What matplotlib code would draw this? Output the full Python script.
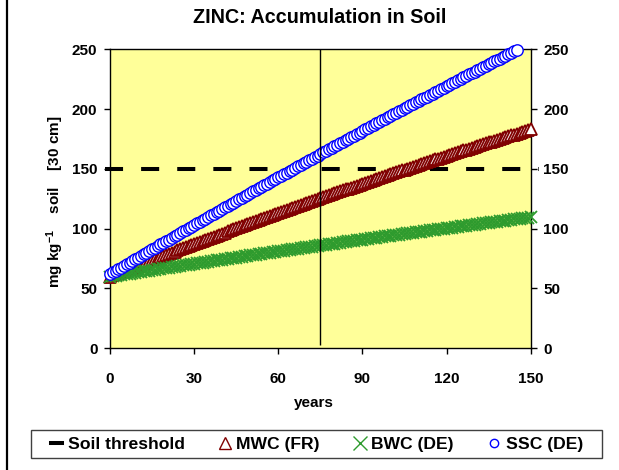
import numpy as np
import matplotlib
matplotlib.use("Agg")
import matplotlib.pyplot as plt
from matplotlib.lines import Line2D
from matplotlib.patches import Rectangle

plt.rcParams['font.family'] = ['Liberation Sans', 'DejaVu Sans']
plt.rcParams['font.weight'] = 'bold'
plt.rcParams['mathtext.fontset'] = 'custom'
plt.rcParams['mathtext.rm'] = 'Liberation Sans:bold'
plt.rcParams['mathtext.it'] = 'Liberation Sans:bold'
plt.rcParams['mathtext.bf'] = 'Liberation Sans:bold'
plt.rcParams['lines.scale_dashes'] = False

# zinc in topsoil (mg/kg, 30 cm), one value per year
ssc_de = [62.0, 63.4, 64.8, 66.2, 67.5, 68.9, 70.3, 71.7, 73.1, 74.5,
          75.8, 77.2, 78.6, 80.0, 81.3, 82.7, 84.1, 85.4, 86.8, 88.2,
          89.5, 90.9, 92.3, 93.6, 95.0, 96.3, 97.7, 99.0, 100.4, 101.8,
          103.1, 104.5, 105.8, 107.1, 108.5, 109.8, 111.2, 112.5, 113.9, 115.2,
          116.5, 117.9, 119.2, 120.5, 121.9, 123.2, 124.5, 125.9, 127.2, 128.5,
          129.8, 131.2, 132.5, 133.8, 135.1, 136.4, 137.8, 139.1, 140.4, 141.7,
          143.0, 144.3, 145.6, 146.9, 148.2, 149.5, 150.8, 152.1, 153.4, 154.7,
          156.0, 157.3, 158.6, 159.9, 161.2, 162.5, 163.8, 165.1, 166.4, 167.6,
          168.9, 170.2, 171.5, 172.8, 174.0, 175.3, 176.6, 177.9, 179.2, 180.4,
          181.7, 183.0, 184.2, 185.5, 186.8, 188.0, 189.3, 190.5, 191.8, 193.1,
          194.3, 195.6, 196.8, 198.1, 199.3, 200.6, 201.8, 203.1, 204.3, 205.6,
          206.8, 208.1, 209.3, 210.5, 211.8, 213.0, 214.2, 215.5, 216.7, 217.9,
          219.2, 220.4, 221.6, 222.9, 224.1, 225.3, 226.5, 227.7, 229.0, 230.2,
          231.4, 232.6, 233.8, 235.0, 236.3, 237.5, 238.7, 239.9, 241.1, 242.3,
          243.5, 244.7, 245.9, 247.1, 248.3, 249.5]

mwc_fr = [60.0, 60.9, 61.9, 62.8, 63.7, 64.6, 65.5, 66.5, 67.4, 68.3,
          69.2, 70.1, 71.0, 71.9, 72.8, 73.7, 74.6, 75.5, 76.5, 77.4,
          78.2, 79.1, 80.0, 80.9, 81.8, 82.7, 83.6, 84.5, 85.4, 86.3,
          87.2, 88.0, 88.9, 89.8, 90.7, 91.6, 92.4, 93.3, 94.2, 95.1,
          95.9, 96.8, 97.7, 98.5, 99.4, 100.3, 101.1, 102.0, 102.8, 103.7,
          104.6, 105.4, 106.3, 107.1, 108.0, 108.8, 109.7, 110.5, 111.4, 112.2,
          113.0, 113.9, 114.7, 115.6, 116.4, 117.2, 118.1, 118.9, 119.7, 120.6,
          121.4, 122.2, 123.0, 123.9, 124.7, 125.5, 126.3, 127.1, 128.0, 128.8,
          129.6, 130.4, 131.2, 132.0, 132.8, 133.6, 134.4, 135.2, 136.0, 136.8,
          137.6, 138.4, 139.2, 140.0, 140.8, 141.6, 142.4, 143.2, 144.0, 144.8,
          145.6, 146.3, 147.1, 147.9, 148.7, 149.5, 150.2, 151.0, 151.8, 152.6,
          153.3, 154.1, 154.9, 155.6, 156.4, 157.2, 157.9, 158.7, 159.5, 160.2,
          161.0, 161.7, 162.5, 163.2, 164.0, 164.7, 165.5, 166.2, 167.0, 167.7,
          168.5, 169.2, 169.9, 170.7, 171.4, 172.1, 172.9, 173.6, 174.3, 175.1,
          175.8, 176.5, 177.3, 178.0, 178.7, 179.4, 180.1, 180.9, 181.6, 182.3,
          183.0]

bwc_de = [60.0, 60.4, 60.7, 61.1, 61.4, 61.8, 62.2, 62.5, 62.9, 63.3,
          63.6, 64.0, 64.3, 64.7, 65.0, 65.4, 65.8, 66.1, 66.5, 66.8,
          67.2, 67.5, 67.9, 68.2, 68.6, 68.9, 69.3, 69.6, 70.0, 70.3,
          70.7, 71.0, 71.4, 71.7, 72.1, 72.4, 72.8, 73.1, 73.5, 73.8,
          74.2, 74.5, 74.9, 75.2, 75.6, 75.9, 76.2, 76.6, 76.9, 77.3,
          77.6, 78.0, 78.3, 78.6, 79.0, 79.3, 79.6, 80.0, 80.3, 80.7,
          81.0, 81.3, 81.7, 82.0, 82.3, 82.7, 83.0, 83.3, 83.7, 84.0,
          84.3, 84.7, 85.0, 85.3, 85.7, 86.0, 86.3, 86.7, 87.0, 87.3,
          87.6, 88.0, 88.3, 88.6, 89.0, 89.3, 89.6, 89.9, 90.3, 90.6,
          90.9, 91.2, 91.5, 91.9, 92.2, 92.5, 92.8, 93.2, 93.5, 93.8,
          94.1, 94.4, 94.7, 95.1, 95.4, 95.7, 96.0, 96.3, 96.6, 97.0,
          97.3, 97.6, 97.9, 98.2, 98.5, 98.8, 99.2, 99.5, 99.8, 100.1,
          100.4, 100.7, 101.0, 101.3, 101.6, 101.9, 102.3, 102.6, 102.9, 103.2,
          103.5, 103.8, 104.1, 104.4, 104.7, 105.0, 105.3, 105.6, 105.9, 106.2,
          106.5, 106.8, 107.1, 107.4, 107.7, 108.0, 108.3, 108.6, 108.9, 109.2,
          109.5]

soil_threshold = 150
marked_year = 75

years_ssc = np.arange(len(ssc_de))
years_mwc = np.arange(len(mwc_fr))
years_bwc = np.arange(len(bwc_de))

xticks = [0, 30, 60, 90, 120, 150]
yticks = [0, 50, 100, 150, 200, 250]

fig = plt.figure(figsize=(6.19, 4.70), dpi=100)
ax = fig.add_axes([0.1777, 0.259, 0.6797, 0.636])
ax.set_facecolor('#FFFF99')

ax.plot([-1.8, 152.9], [soil_threshold, soil_threshold], color='black', lw=2.9,
        dashes=(13, 13), dash_capstyle='butt', clip_on=False, zorder=2)
ax.plot(years_mwc, mwc_fr, ls='none', marker='^', ms=8.6, mfc='white',
        mec='#800000', mew=1.3, clip_on=False, zorder=3)
ax.plot(years_bwc, bwc_de, ls='none', marker='x', ms=8.5, mec='#2E9B2E',
        mew=1.3, clip_on=False, zorder=4)
ax.plot(years_ssc, ssc_de, ls='none', marker='o', ms=8.2, mfc='white',
        mec='#0000FF', mew=1.0, clip_on=False, zorder=5)
ax.vlines(marked_year, 3, 250, color='black', lw=1, zorder=6)

ax.set_xlim(0, 150)
ax.set_ylim(0, 250)
ax.set_xticks(xticks)
ax.set_yticks(yticks)
ax.tick_params(axis='both', direction='out', length=4, width=1, labelsize=11)
ax.tick_params(axis='x', pad=13)
ax.tick_params(axis='y', pad=5, right=True, labelright=True)
for s in ax.spines.values():
    s.set_linewidth(1)
    s.set_color('black')

fig.text(0.516, 0.962, 'ZINC: Accumulation in Soil', ha='center', va='center',
         fontsize=14.2, fontweight='bold')
fig.text(0.507, 0.142, 'years', ha='center', va='center', fontsize=11,
         fontweight='bold')
fig.text(0.089, 0.570, r'mg kg$^{-1}$    soil    [30 cm]', rotation=90,
         ha='center', va='center', fontsize=11, fontweight='bold')

# left edge rule of the chart frame
fig.add_artist(Line2D([0.012, 0.012], [0, 1], transform=fig.transFigure,
                      color='black', lw=1.6))

handles = [
    Line2D([], [], color='black', lw=2.9),
    Line2D([], [], ls='none', marker='^', ms=9, mfc='white', mec='#800000', mew=1),
    Line2D([], [], ls='none', marker='x', ms=9.5, mec='#2E9B2E', mew=1),
    Line2D([], [], ls='none', marker='o', ms=6, mfc='white', mec='#0000FF', mew=1),
]
labels = ['Soil threshold', 'MWC (FR)', 'BWC (DE)', 'SSC (DE)']
fig.legend(handles, labels, loc='center', bbox_to_anchor=(0.512, 0.0553),
           ncol=4, fontsize=12.6, frameon=False, handlelength=0.6,
           handletextpad=0.35, columnspacing=2.0, borderpad=0.3)
# legend box
fig.add_artist(Rectangle((0.0494, 0.0255), 0.9224, 0.0596, transform=fig.transFigure,
                         fill=False, edgecolor='#404040', lw=1))

fig.savefig('out.png', dpi=100)
